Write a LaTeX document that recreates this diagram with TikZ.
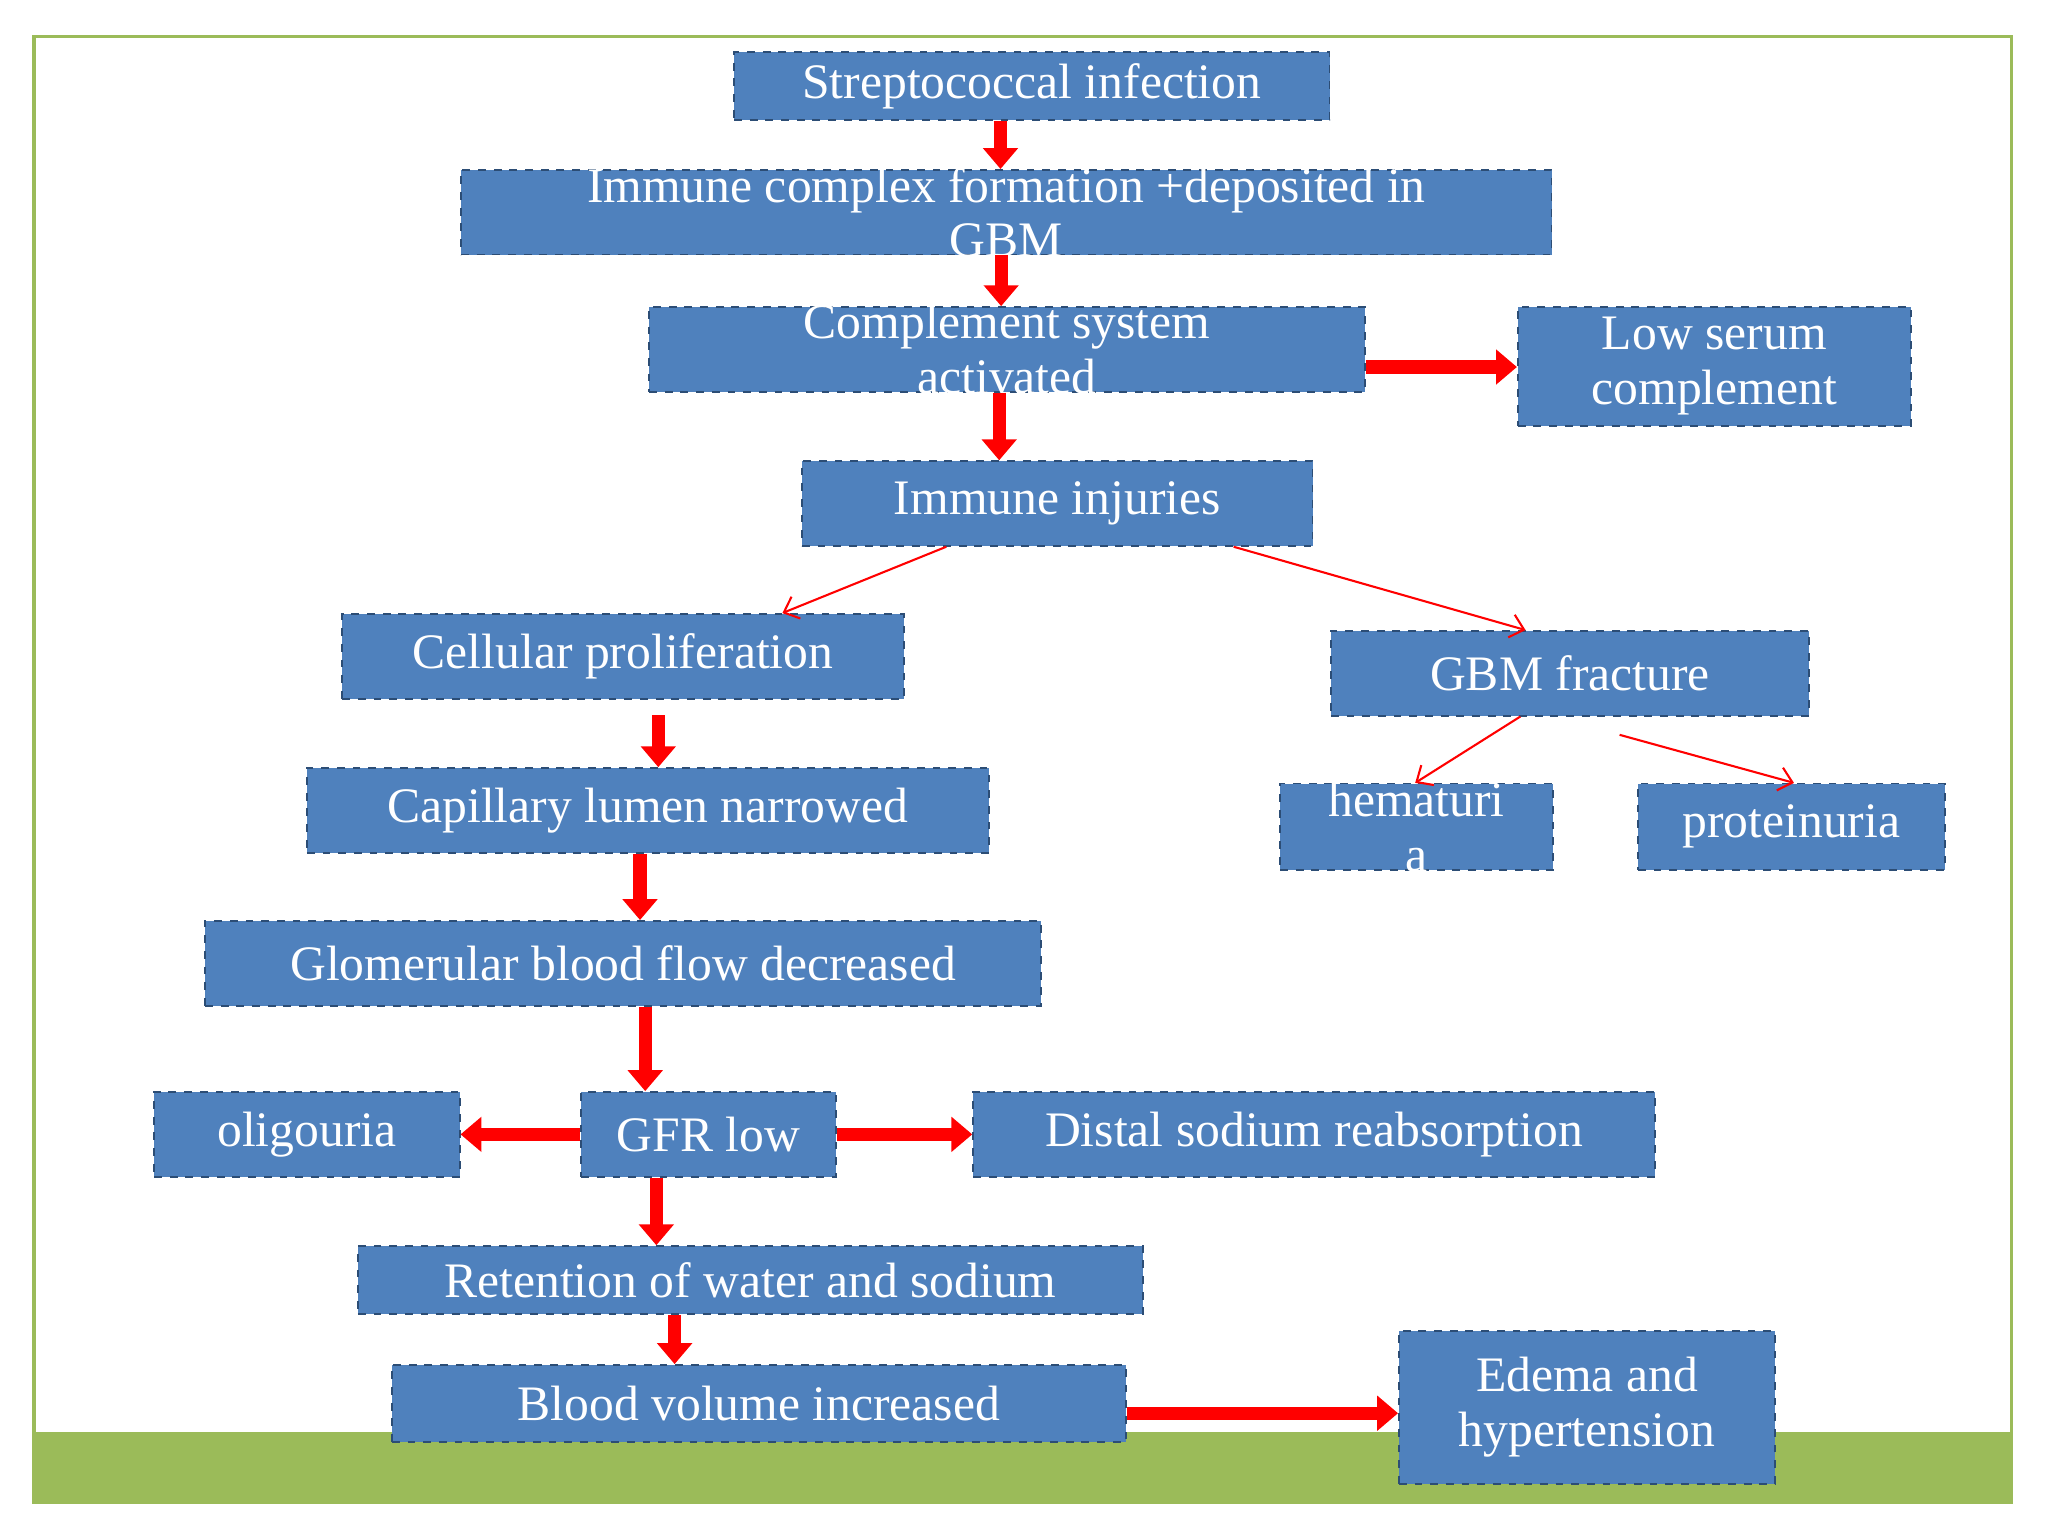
\documentclass[tikz,border=0pt]{standalone}
\usepackage{fontspec}
\setmainfont{Liberation Serif}
\usetikzlibrary{arrows.meta}
\definecolor{boxblue}{HTML}{4F81BD}
\definecolor{edgeblue}{HTML}{2C4D75}
\definecolor{grn}{HTML}{9BBB59}
\newcommand\mybox[5]{\node[box,minimum width={(#4-#2)*0.5pt},minimum height={(#5-#3)*0.5pt}] (#1) at ({(#2+#4)/2},{(#3+#5)/2}) {};}
\begin{document}
\begin{tikzpicture}[x=0.5pt,y=-0.5pt,
 box/.style={draw=edgeblue,dashed,line width=0.6pt,fill=boxblue,inner sep=0pt},
 txt/.style={text=white,font=\fontsize{19}{21}\selectfont,align=center,inner sep=0pt},
 fat/.style={draw=red,line width=5pt,-{Triangle[length=8pt,width=13pt]}},
 thin/.style={draw=red,line width=0.8pt,-{Straight Barb[length=5pt,width=9pt]}}]
\useasboundingbox (0,0) rectangle (1568,1176);
\fill[white] (0,0) rectangle (1568,1176);
\fill[grn] (26,1096) rectangle (1540,1150);
\draw[grn,line width=1.2pt] (26,28) rectangle (1540,1150);
\mybox{strep}{562}{40}{1018}{92}
\mybox{ic}{353}{130}{1188}{195}
\mybox{comp}{497}{235}{1045}{300}
\mybox{low}{1162}{235}{1463}{326}
\mybox{inj}{614}{353}{1005}{418}
\mybox{cell}{262}{470}{692}{535}
\mybox{gbm}{1019}{483}{1385}{548}
\mybox{hem}{980}{600}{1189}{666}
\mybox{prot}{1254}{600}{1489}{666}
\mybox{cap}{235}{588}{757}{653}
\mybox{glom}{157}{705}{797}{770}
\mybox{olig}{118}{836}{352}{901}
\mybox{gfr}{445}{836}{640}{901}
\mybox{dist}{745}{836}{1267}{901}
\mybox{ret}{274}{954}{875}{1006}
\mybox{bv}{300}{1045}{862}{1104}
\mybox{ed}{1071}{1019}{1359}{1136}
\node[txt] at (strep) {Streptococcal infection};
\node[txt] at (ic) {Immune complex formation +deposited in\\GBM};
\node[txt] at (comp) {Complement system\\activated};
\node[txt] at (low) {Low serum\\complement};
\node[txt] at (inj) {Immune injuries};
\node[txt] at (cell) {Cellular proliferation};
\node[txt] at (gbm) {GBM fracture};
\node[txt] at ([xshift=0pt]hem) {hematuri\\a};
\node[txt] at (prot) {proteinuria};
\node[txt] at (cap) {Capillary lumen narrowed};
\node[txt] at (glom) {Glomerular blood flow decreased};
\node[txt] at (olig) {oligouria};
\node[txt] at (gfr) {GFR low};
\node[txt] at (dist) {Distal sodium reabsorption};
\node[txt] at (ret) {Retention of water and sodium};
\node[txt] at (bv) {Blood volume increased};
\node[txt] at (ed) {Edema and\\hypertension};
% fat arrows
\draw[fat] ([xshift=-12pt]strep.south) -- ([xshift=-12pt]strep.south |- ic.north);
\draw[fat] ([xshift=-2pt]ic.south) -- ([xshift=-2pt]ic.south |- comp.north);
\draw[fat] ([xshift=-3pt]comp.south) -- ([xshift=-3pt]comp.south |- inj.north);
\draw[fat] (comp.east |- 0,281) -- (low.west |- 0,281);
\draw[fat] ([xshift=13.5pt,yshift=-6pt]cell.south) -- ([xshift=13.5pt]cell.south |- cap.north);
\draw[fat] ([xshift=-3pt]cap.south) -- ([xshift=-3pt]cap.south |- glom.north);
\draw[fat] ([xshift=8.5pt]glom.south) -- ([xshift=8.5pt]glom.south |- gfr.north);
\draw[fat] (gfr.west) -- (olig.east);
\draw[fat] (gfr.east) -- (dist.west);
\draw[fat] ([xshift=-20pt]gfr.south) -- ([xshift=-20pt]gfr.south |- ret.north);
\draw[fat] ([xshift=-29pt]ret.south) -- ([xshift=-29pt]ret.south |- bv.north);
\draw[fat] (bv.east |- 0,1082) -- (ed.west |- 0,1082);
% thin arrows
\draw[thin] ([xshift=-42.5pt]inj.south) -- ([xshift=61pt]cell.north);
\draw[thin] ([xshift=67.5pt]inj.south) -- ([xshift=-17pt]gbm.north);
\draw[thin] ([xshift=-19pt]gbm.south) -- ([xshift=-0.5pt]hem.north);
\draw[thin] ([xshift=19pt,yshift=-7pt]gbm.south) -- ([xshift=1pt]prot.north);
\end{tikzpicture}
\end{document}
